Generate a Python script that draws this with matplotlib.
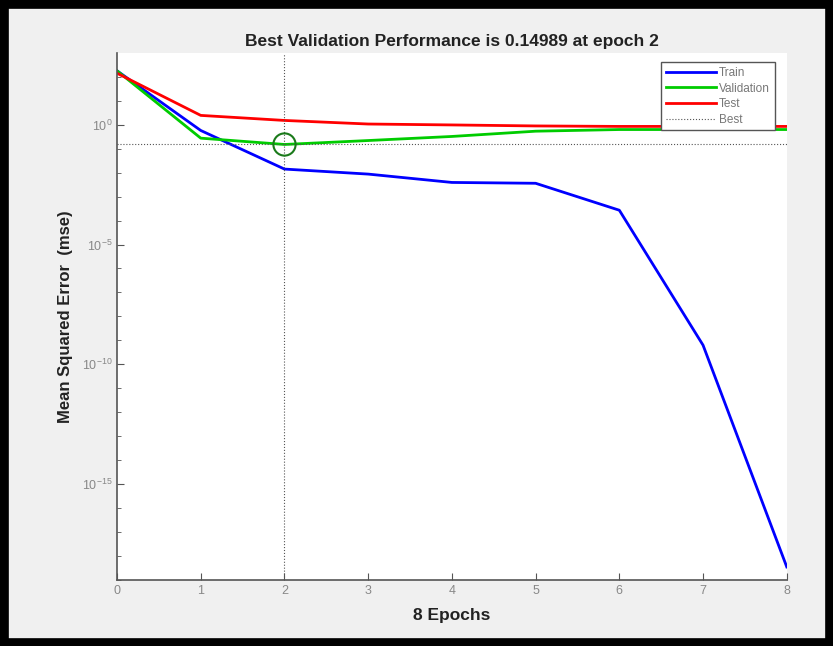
import matplotlib
matplotlib.use("Agg")
import matplotlib.pyplot as plt
from matplotlib.patches import Rectangle

plt.rcParams['font.family'] = ['Liberation Sans', 'DejaVu Sans']
plt.rcParams['mathtext.default'] = 'regular'

# performance values (mse per epoch)
epochs = [0, 1, 2, 3, 4, 5, 6, 7, 8]
train_mse = [178, 0.575, 0.0141, 0.0087, 0.0039, 0.0036, 2.7e-4, 6.3e-10, 3.5e-19]
val_mse = [178, 0.275, 0.14989, 0.219, 0.324, 0.537, 0.63, 0.63, 0.63]
test_mse = [141, 2.45, 1.51, 1.07, 0.98, 0.89, 0.85, 0.85, 0.85]
best_epoch = 2
best_perf = 0.14989
ytick_vals = [1e0, 1e-5, 1e-10, 1e-15]
ytick_labels = ['$10^{0}$', '$10^{-5}$', '$10^{-10}$', '$10^{-15}$']

fig = plt.figure(figsize=(8.33, 6.46), dpi=100, facecolor='#f0f0f0')
ax = fig.add_axes([0.1405, 0.1022, 0.804, 0.816])
ax.set_facecolor('white')

ax.plot(epochs, train_mse, color='#0000ff', lw=2.0, label='Train')
ax.plot(epochs, val_mse, color='#00cc00', lw=2.0, label='Validation')
ax.plot(epochs, test_mse, color='#ff0000', lw=2.0, label='Test')
ax.axhline(best_perf, color='#555555', lw=0.8, ls=':', label='Best')
ax.axvline(best_epoch, color='#555555', lw=0.8, ls=':')
ax.plot([best_epoch], [best_perf], 'o', mfc='none', mec='#1a7a1a',
        ms=16, mew=1.5)

ax.set_yscale('log')
ax.set_xlim(0, 8)
ax.set_ylim(1e-19, 1e3)
ax.set_xticks(epochs)
ax.set_yticks(ytick_vals)
ax.set_yticklabels(ytick_labels)
ax.set_yticks([10.0 ** k for k in range(-19, 3)], minor=True)
ax.tick_params(axis='both', which='both', direction='in', colors='#555555',
               labelcolor='#888888', labelsize=9)
ax.tick_params(axis='y', which='minor', length=3, labelleft=False)
ax.tick_params(axis='both', which='major', length=5)

for side in ['top', 'right']:
    ax.spines[side].set_visible(False)
for side in ['left', 'bottom']:
    ax.spines[side].set_color('#555555')
    ax.spines[side].set_linewidth(1.2)

ax.set_title('Best Validation Performance is 0.14989 at epoch 2',
             fontsize=12.5, fontweight='bold', color='#222222', pad=5)
ax.set_xlabel('8 Epochs', fontsize=12.5, fontweight='bold', color='#222222',
              labelpad=8)
ax.set_ylabel('Mean Squared Error  (mse)', fontsize=12, fontweight='bold',
              color='#222222', labelpad=6)

leg = ax.legend(loc='upper right', bbox_to_anchor=(0.982, 0.982),
                borderaxespad=0, fontsize=8.5, handlelength=4.2,
                fancybox=False, framealpha=1, labelspacing=0.3,
                borderpad=0.4, handletextpad=0.3)
leg.get_frame().set_edgecolor('#555555')
for t in leg.get_texts():
    t.set_color('#777777')

# black frame around the screenshot
fig.patches.append(Rectangle((0, 0), 1, 1, transform=fig.transFigure,
                             fill=False, edgecolor='black', linewidth=12))

fig.savefig('out.png', dpi=100, facecolor=fig.get_facecolor())
